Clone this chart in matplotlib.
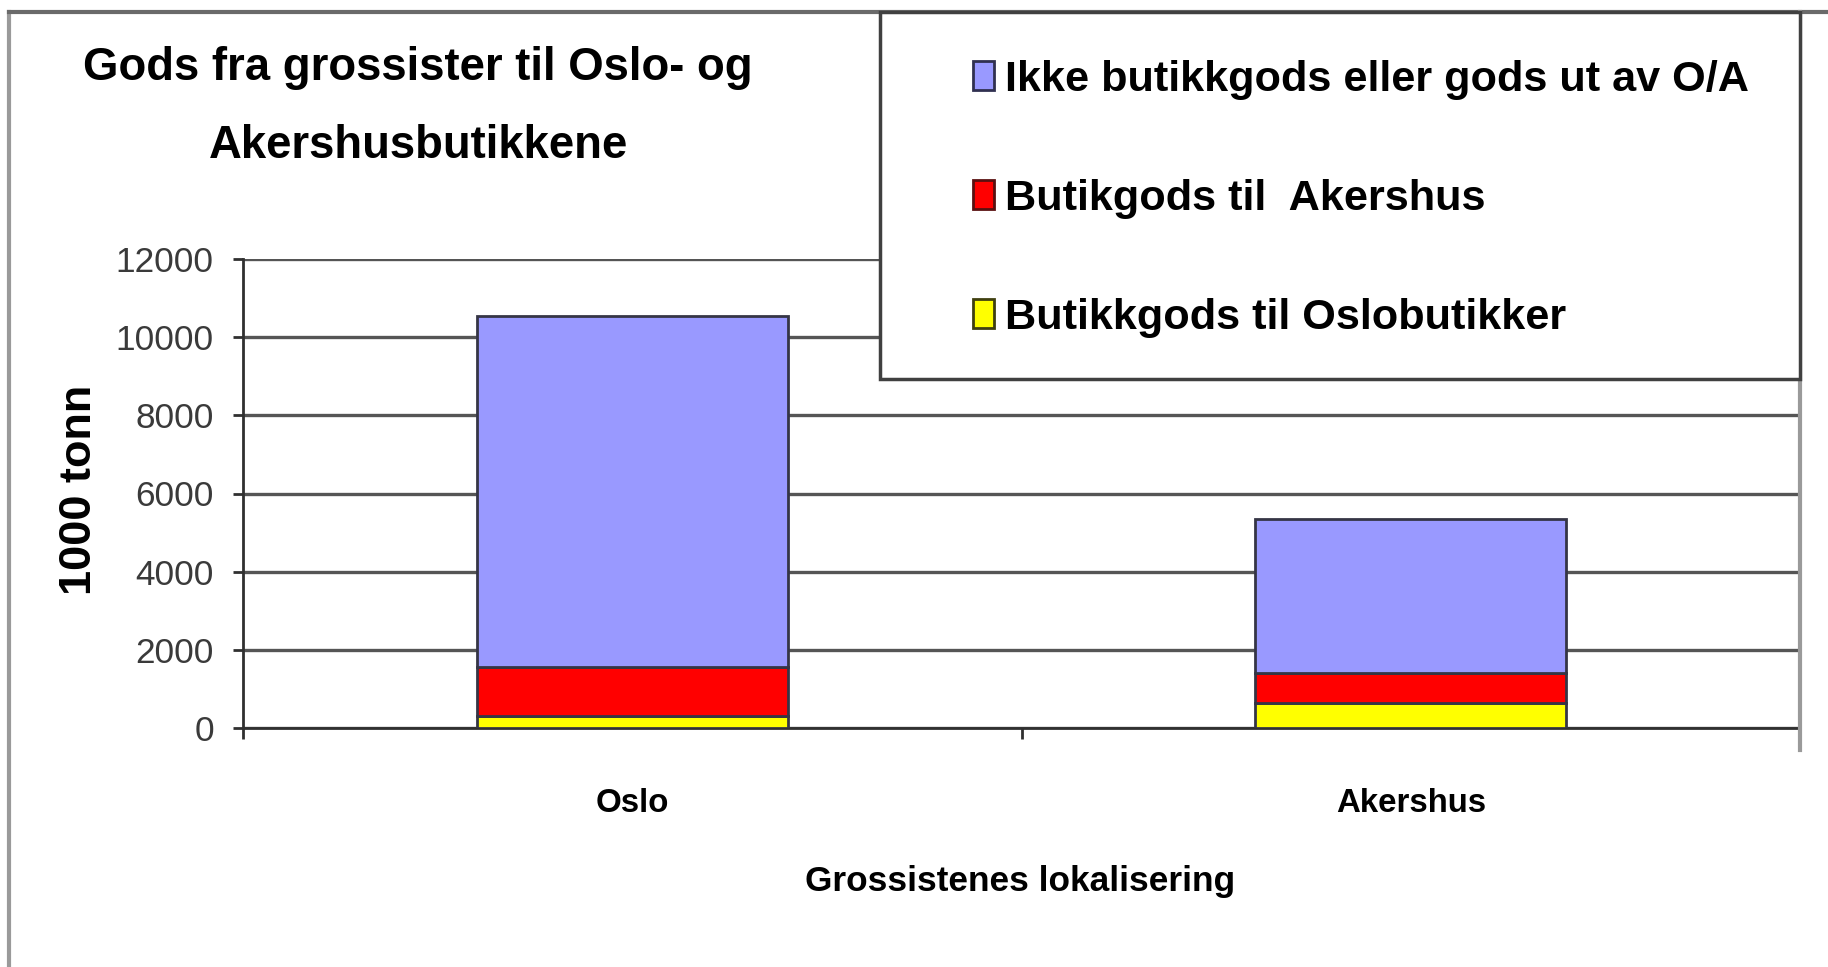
import matplotlib
matplotlib.use("Agg")
import matplotlib.pyplot as plt
from matplotlib import font_manager
from matplotlib.patches import Patch, Rectangle
from matplotlib.lines import Line2D
import numpy as np

# ---- data ----
locations = ["Oslo", "Akershus"]
butikkgods_oslo = [300, 650]          # yellow
butikkgods_akershus = [1250, 750]     # red
ikke_butikkgods = [9000, 3950]        # blue
series_labels = ["Butikkgods til Oslobutikker", "Butikgods til  Akershus",
                 "Ikke butikkgods eller gods ut av O/A"]
yticks = [0, 2000, 4000, 6000, 8000, 10000, 12000]
title = "Gods fra grossister til Oslo- og\nAkershusbutikkene"
xlabel = "Grossistenes lokalisering"
ylabel = "1000 tonn"

# ---- fonts ----
names = {f.name for f in font_manager.fontManager.ttflist}
if "Liberation Sans Narrow" in names:
    NARROW = "Liberation Sans Narrow"
    k = 1.0
else:
    NARROW = "Liberation Sans"
    k = 0.82
WIDE = "Liberation Sans"

W, H = 1828, 967
fig = plt.figure(figsize=(W / 100, H / 100), dpi=100)
fig.patch.set_facecolor("white")

def fx(px):
    return px / W

def fy(py):
    return 1 - py / H

ax = fig.add_axes([fx(243), fy(728), fx(1800) - fx(243), fy(259) - fy(728)])

x = np.arange(len(locations))
colors = ["#FFFF00", "#FF0000", "#9999FF"]
edge = "#353545"
bw = 0.40
ax.bar(x, butikkgods_oslo, bw, color=colors[0], edgecolor=edge, linewidth=2, zorder=3)
bottom2 = np.array(butikkgods_oslo)
ax.bar(x, butikkgods_akershus, bw, bottom=bottom2, color=colors[1], edgecolor=edge,
       linewidth=2, zorder=3)
bottom3 = bottom2 + np.array(butikkgods_akershus)
ax.bar(x, ikke_butikkgods, bw, bottom=bottom3, color=colors[2], edgecolor=edge,
       linewidth=2, zorder=3)

ax.set_xlim(-0.5, len(locations) - 0.5)
ax.set_ylim(0, 12000)
ax.set_yticks(yticks)
ax.set_yticklabels([str(v) for v in yticks])
ax.yaxis.grid(True, color="#555555", linewidth=2.4, zorder=1)
ax.set_axisbelow(True)

ax.set_xticks(x)
ax.set_xticklabels(locations)
ax.set_xticks(np.arange(-0.5, len(locations)), minor=True)
ax.tick_params(axis="x", which="major", length=0, pad=43)
ax.tick_params(axis="x", which="minor", length=8, width=2, color="#303030", direction="out")
ax.tick_params(axis="y", length=7, width=2, color="#303030", direction="out", pad=14,
               labelcolor="#3a3a3a")

for lab in ax.get_xticklabels():
    lab.set_fontfamily(NARROW)
    lab.set_fontweight("bold")
    lab.set_fontsize(29 * k)
for lab in ax.get_yticklabels():
    lab.set_fontfamily(NARROW)
    lab.set_fontsize(31 * k)

for s in ["top", "right"]:
    ax.spines[s].set_visible(False)
for s in ["left", "bottom"]:
    ax.spines[s].set_color("#303030")
    ax.spines[s].set_linewidth(2)

ax.set_xlabel(xlabel, fontfamily=NARROW, fontweight="bold", fontsize=31 * k)
ax.xaxis.set_label_coords(0.499, (728 - 882) / 469)
ax.xaxis.label.set_va("center")
ax.set_ylabel(ylabel, fontfamily=WIDE, fontweight="bold", fontsize=32.5)
ax.yaxis.set_label_coords((80 - 243) / 1557, (728 - 490) / 469)
ax.yaxis.label.set_va("center")

# title
fig.text(fx(418), fy(107), title, ha="center", va="center", fontfamily=NARROW,
         fontweight="bold", fontsize=40 * k, linespacing=2.0)

# outer frame
fig.add_artist(Line2D([fx(9), fx(9)], [fy(12), 0], color="#9a9a9a", lw=3))
fig.add_artist(Line2D([fx(9), 1], [fy(12), fy(12)], color="#6a6a6a", lw=3))
fig.add_artist(Line2D([fx(1800), fx(1800)], [fy(12), fy(750)], color="#9a9a9a", lw=3))

# legend box
fig.patches.append(Rectangle((fx(880), fy(379)), fx(1800) - fx(880), fy(12) - fy(379),
                             transform=fig.transFigure, facecolor="white",
                             edgecolor="#404040", linewidth=2.5, zorder=3))
handles = [Patch(facecolor=colors[2], edgecolor="#303050", linewidth=2),
           Patch(facecolor=colors[1], edgecolor="#5a1010", linewidth=2),
           Patch(facecolor=colors[0], edgecolor="#404010", linewidth=2)]
leg = fig.legend(handles, [series_labels[2], series_labels[1], series_labels[0]],
                 loc="upper left", bbox_to_anchor=(fx(973), fy(60)),
                 frameon=False, borderpad=0, borderaxespad=0,
                 handlelength=0.49, handleheight=0.66, handletextpad=0.25,
                 labelspacing=1.82,
                 prop={"family": NARROW, "weight": "bold", "size": 38 * k})
leg.set_zorder(6)

fig.savefig("out.png", dpi=100)
